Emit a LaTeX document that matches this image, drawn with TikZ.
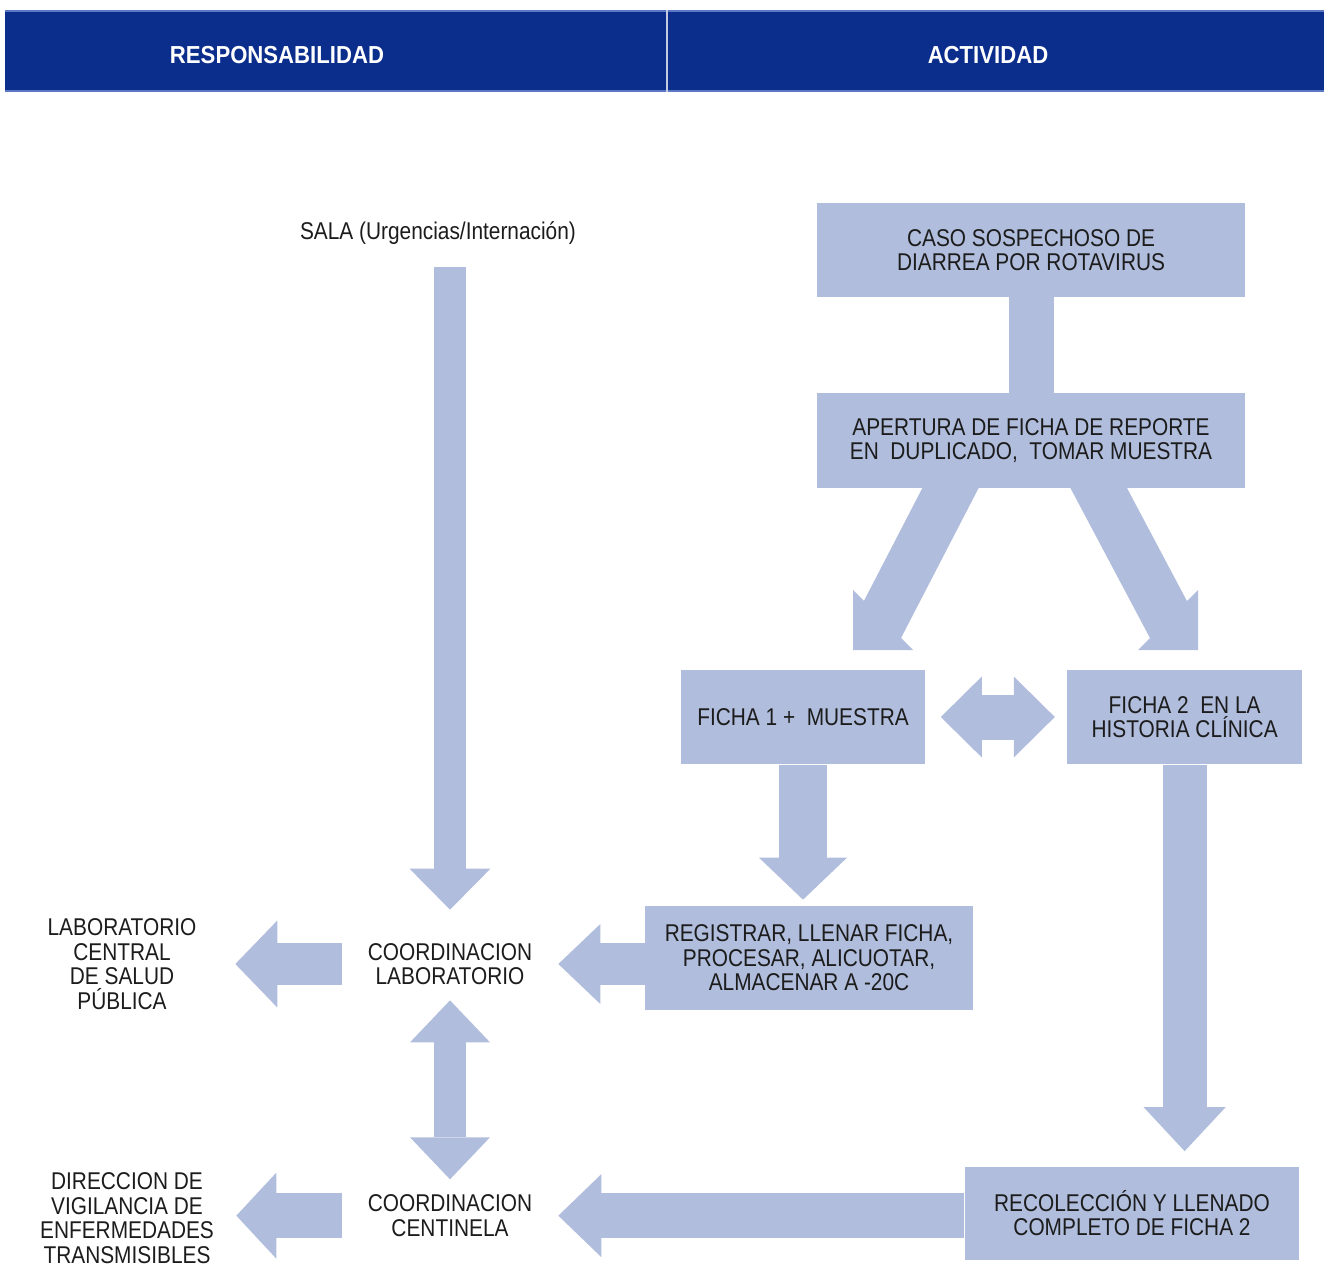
\documentclass[tikz,border=0pt]{standalone}
\usepackage{fontspec}
\setmainfont{Liberation Sans}[FakeStretch=0.86]
\newfontfamily\hdrfont{Liberation Sans}[FakeStretch=0.9]
\usetikzlibrary{positioning,arrows.meta,backgrounds,calc}
\definecolor{navy}{HTML}{0B2D8C}
\definecolor{navyedge}{HTML}{5A78C4}
\definecolor{boxbg}{HTML}{B0BDDC}
\definecolor{ink}{HTML}{1C1C1C}
\newcommand{\bodyfont}{\fontsize{13.8}{14}\selectfont}
\tikzset{
  blk/.style={rectangle,fill=boxbg,align=center,inner sep=0pt,font=\bodyfont,text=ink},
  lbl/.style={rectangle,align=center,inner sep=0pt,font=\bodyfont,text=ink},
  hdr/.style={font=\hdrfont\bfseries\fontsize{14}{16}\selectfont,text=white},
  bar/.style={draw=boxbg,line width=#1},
  bar/.default=0.9cm,
  hd/.style args={#1 and #2}{-{Triangle[length=#1,width=#2,line width=0pt]}},
  dhd/.style args={#1 and #2}{{Triangle[length=#1,width=#2,line width=0pt]}-{Triangle[length=#1,width=#2,line width=0pt]}},
}

\begin{document}
\begin{tikzpicture}[x=0.02cm,y=-0.02cm]
  \useasboundingbox (0,0) rectangle (1324,1267);
  % header band
  \fill[navy] (5,10) rectangle (1324,92);
  \draw[navyedge,line width=0.05cm] (5,11) -- (1324,11);
  \draw[navyedge,line width=0.03cm] (5,91) -- (1324,91);
  \draw[white!75!navy,line width=0.04cm] (667,10) -- (667,92);
  \node[hdr] (hresp) at (277,55) {RESPONSABILIDAD};
  \node[hdr] (hact) at (988,55) {ACTIVIDAD};

  % responsabilidad
  \node[lbl,minimum height=1cm] (sala) at (438,233) {SALA (Urgencias/Internación)};
  \node[lbl,minimum width=4.32cm,minimum height=1.6cm] (clab) at (450,964) {COORDINACION\\LABORATORIO};
  \node[lbl,minimum width=4.32cm,minimum height=1.6cm,below=3.42cm of clab] (ccen) {COORDINACION\\CENTINELA};
  \node[lbl,minimum width=4.52cm] (lcsp) at (122,964) {LABORATORIO\\CENTRAL\\DE SALUD\\PÚBLICA};
  \node[lbl,minimum width=4.36cm] (dvet) at (127,1218) {DIRECCION DE\\VIGILANCIA DE\\ENFERMEDADES\\TRANSMISIBLES};

  % actividad
  \node[blk,minimum width=8.56cm,minimum height=1.9cm] (caso) at (1031,250) {CASO SOSPECHOSO DE\\DIARREA POR ROTAVIRUS};
  \node[blk,minimum width=8.56cm,minimum height=1.9cm,below=1.9cm of caso] (apert) {APERTURA DE FICHA DE REPORTE\\EN~~DUPLICADO,~~TOMAR MUESTRA};
  \node[blk,minimum width=4.9cm,minimum height=1.9cm] (fic1) at (803,717) {FICHA 1 +~~MUESTRA};
  \node[blk,minimum width=4.7cm,minimum height=1.9cm,right=2.82cm of fic1] (fic2) {FICHA 2~~EN LA\\HISTORIA CLÍNICA};
  \node[blk,minimum width=6.56cm,minimum height=2.08cm] (reg) at (809,958) {REGISTRAR, LLENAR FICHA,\\PROCESAR, ALICUOTAR,\\ALMACENAR A -20C};
  \node[blk,minimum width=6.7cm,minimum height=1.86cm] (reco) at (1132,1213) {RECOLECCIÓN Y LLENADO\\COMPLETO DE FICHA 2};

  \coordinate (hl) at (883,620);
  \coordinate (hr) at (1168,620);

  \begin{scope}[on background layer]
    \draw[bar=0.64cm,hd=0.82cm and 1.62cm,shorten <=0.18cm,shorten >=0.28cm] (sala.south -| clab) -- (clab.north);
    \draw[bar=0.64cm,dhd=0.84cm and 1.6cm] ([yshift=0.08cm]clab.south) -- ([yshift=-0.08cm]ccen.north);
    \draw[bar=0.84cm,hd=0.84cm and 1.6cm] (reg.west |- clab.east) -- (clab.east);
    \draw[bar=0.84cm,hd=0.84cm and 1.74cm] (clab.west) -- (clab.west -| lcsp.east);
    \draw[bar=0.9cm,hd=0.86cm and 1.66cm] (reco.west |- ccen.east) -- (ccen.east);
    \draw[bar=0.9cm,hd=0.8cm and 1.72cm] (ccen.west) -- (ccen.west -| dvet.east);
    \draw[bar] ([yshift=0.3cm]caso.south) -- ([yshift=-0.3cm]apert.north);
    \draw[bar=0.9cm,dhd=0.82cm and 1.62cm] ([xshift=0.3cm]fic1.east) -- ([xshift=-0.24cm]fic2.west);
    \draw[bar=0.96cm,hd=0.84cm and 1.76cm,shorten >=0.12cm] (fic1.south) -- (fic1.south |- reg.north);
    \draw[bar=0.88cm,hd=0.88cm and 1.64cm,shorten >=0.3cm] (fic2.south) -- (fic2.south |- reco.north);
    % split towards both fichas
    \draw[bar=1cm] ($(apert.south)+(-73,-15)$) -- ($(hl)+(-6,10)$);
    \fill[boxbg] (hl) ++(-30,-30) -- ++(0,60) -- ++(60,0) -- cycle;
    \draw[bar=1cm] ($(apert.south)+(60,-15)$) -- ($(hr)+(6,10)$);
    \fill[boxbg] (hr) ++(30,-30) -- ++(0,60) -- ++(-60,0) -- cycle;
  \end{scope}
\end{tikzpicture}
\end{document}
